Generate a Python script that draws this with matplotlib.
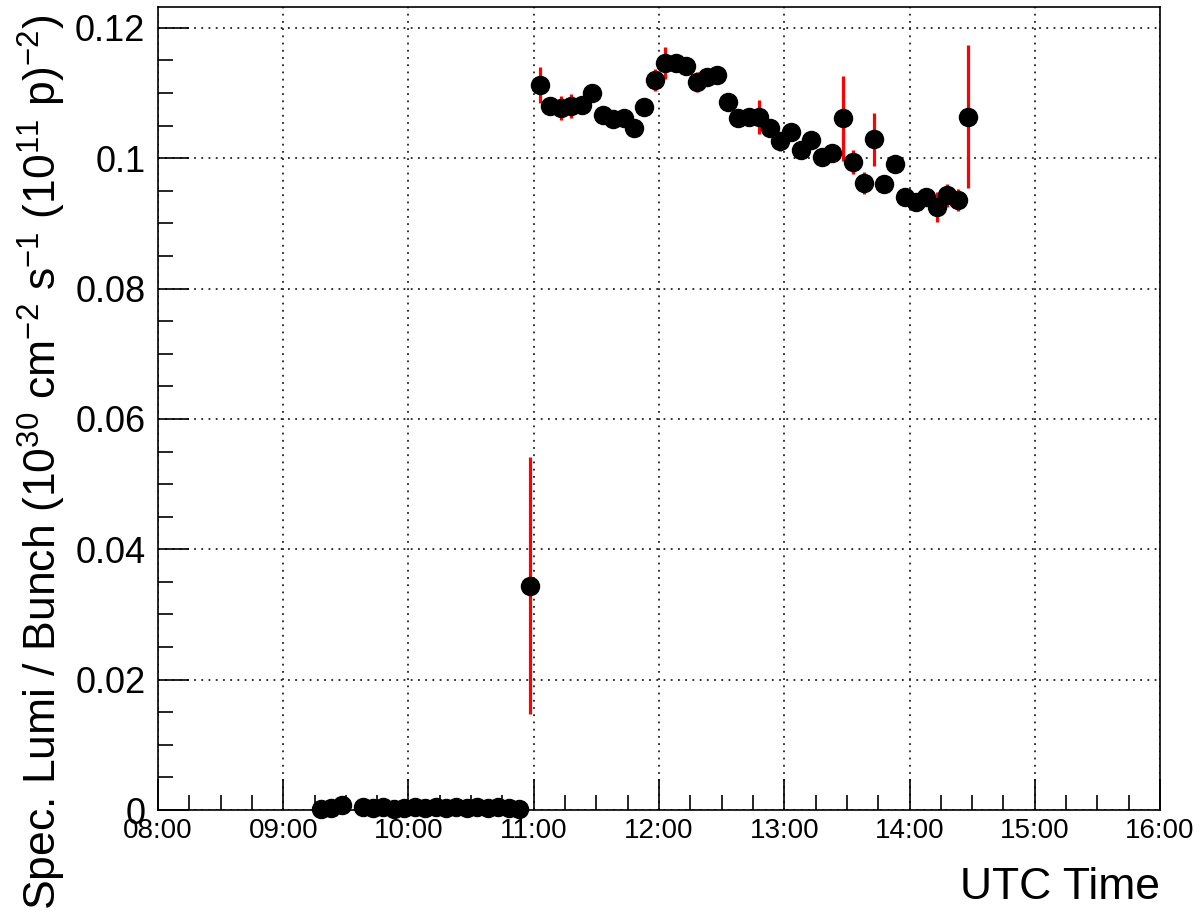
import matplotlib
matplotlib.use("Agg")
import matplotlib.pyplot as plt
import matplotlib.ticker as mticker

plt.rcParams['font.family'] = ['Liberation Sans', 'DejaVu Sans']
plt.rcParams['mathtext.fontset'] = 'custom'
plt.rcParams['mathtext.rm'] = 'Liberation Sans'
plt.rcParams['mathtext.it'] = 'Liberation Sans:italic'
plt.rcParams['mathtext.default'] = 'regular'

# times (UTC) of each measurement
times = ["09:18", "09:23", "09:28",
         "09:38", "09:43", "09:48", "09:53", "09:58", "10:03", "10:08", "10:13",
         "10:18", "10:23", "10:28", "10:33", "10:38", "10:43", "10:48", "10:53",
         "10:58",
         "11:03", "11:08", "11:13", "11:18", "11:23", "11:28", "11:33", "11:38",
         "11:43", "11:48", "11:53", "11:58", "12:03", "12:08", "12:13", "12:18",
         "12:23", "12:28", "12:33", "12:38", "12:43", "12:48", "12:53", "12:58",
         "13:03", "13:08", "13:13", "13:18", "13:23", "13:28", "13:33", "13:38",
         "13:43", "13:48", "13:53", "13:58", "14:03", "14:08", "14:13", "14:18",
         "14:23", "14:28"]

lumi = [0.0002, 0.0003, 0.0007,
        0.0004, 0.0003, 0.0005, 0.0002, 0.0003, 0.0004, 0.0003, 0.0004,
        0.0003, 0.0004, 0.0003, 0.0004, 0.0003, 0.0004, 0.0003, 0.0002,
        0.0344,
        0.1112, 0.1080, 0.1077, 0.1080, 0.1081, 0.1100, 0.1067, 0.1060,
        0.1061, 0.1046, 0.1078, 0.1120, 0.1146, 0.1146, 0.1141, 0.1117,
        0.1124, 0.1127, 0.1086, 0.1061, 0.1063, 0.1063, 0.1046, 0.1026,
        0.1040, 0.1012, 0.1028, 0.1002, 0.1008, 0.1061, 0.0994, 0.0962,
        0.1029, 0.0960, 0.0991, 0.0940, 0.0933, 0.0940, 0.0925, 0.0943,
        0.0936, 0.1064]

lumi_err = [0.0002, 0.0002, 0.0002,
            0.0002, 0.0002, 0.0002, 0.0002, 0.0002, 0.0002, 0.0002, 0.0002,
            0.0002, 0.0002, 0.0002, 0.0002, 0.0002, 0.0002, 0.0002, 0.0002,
            0.0197,
            0.0028, 0.0008, 0.0018, 0.0019, 0.0008, 0.0008, 0.0012, 0.0008,
            0.0008, 0.0008, 0.0008, 0.0017, 0.0025, 0.0013, 0.0010, 0.0015,
            0.0008, 0.0008, 0.0008, 0.0008, 0.0008, 0.0026, 0.0008, 0.0015,
            0.0008, 0.0012, 0.0008, 0.0008, 0.0008, 0.0065, 0.0018, 0.0017,
            0.0041, 0.0008, 0.0008, 0.0008, 0.0008, 0.0008, 0.0023, 0.0018,
            0.0017, 0.0109]


def to_hours(s):
    h, m = s.split(":")
    return int(h) + int(m) / 60.0


x = [to_hours(t) for t in times]

fig = plt.figure(figsize=(12.02, 9.13), dpi=100)
ax = fig.add_axes([0.1314, 0.1128, 0.8337, 0.8795])

ax.errorbar(x, lumi, yerr=lumi_err, fmt='none', ecolor='red', elinewidth=2.3,
            capsize=0, zorder=3, clip_on=False)
ax.plot(x, lumi, 'o', color='black', ms=13, zorder=4, clip_on=False)

ax.set_xlim(8, 16)
ax.set_ylim(0, 0.1232)

ax.xaxis.set_major_locator(mticker.MultipleLocator(1))
ax.xaxis.set_minor_locator(mticker.MultipleLocator(0.25))
ax.xaxis.set_major_formatter(mticker.FuncFormatter(lambda v, p: "%02d:00" % int(round(v))))
ax.yaxis.set_major_locator(mticker.MultipleLocator(0.02))
ax.yaxis.set_minor_locator(mticker.MultipleLocator(0.005))
ax.yaxis.set_major_formatter(mticker.FuncFormatter(lambda v, p: "0" if v == 0 else ("%g" % round(v, 3))))

ax.tick_params(which='both', direction='in', top=False, right=False, width=1.2)
ax.tick_params(which='major', length=22)
ax.tick_params(which='minor', length=11)
ax.tick_params(axis='x', labelsize=20, pad=6)
ax.tick_params(axis='y', labelsize=26, pad=9)

ax.grid(True, which='major', color='#222222', linestyle=(0, (1, 3)), linewidth=1.3)
for s in ax.spines.values():
    s.set_linewidth(1.2)

ax.set_xlabel("UTC Time", fontsize=32, loc='right', labelpad=16)
ax.set_ylabel(r"Spec. Lumi / Bunch (10$^{30}$ cm$^{-2}$ s$^{-1}$ (10$^{11}$ p)$^{-2}$)",
              fontsize=32, loc='top')
ax.yaxis.set_label_coords(-0.09, 0.99)

fig.savefig("out.png", dpi=100)
